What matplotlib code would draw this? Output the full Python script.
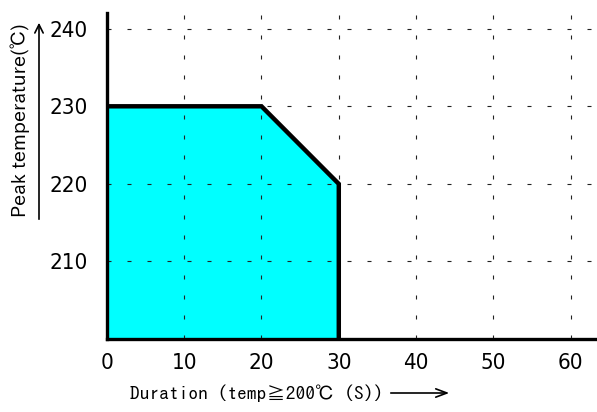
import matplotlib
matplotlib.use("Agg")
import matplotlib.pyplot as plt

# profile limit (duration s, peak temperature C)
duration = [0, 20, 30, 30]
peak_temp = [230, 230, 220, 200]
x_ticks = [0, 10, 20, 30, 40, 50, 60]
y_ticks = [210, 220, 230, 240]

gothic = ["IPAGothic", "Noto Sans CJK JP", "DejaVu Sans"]
pgothic = ["IPAPGothic", "Noto Sans CJK JP", "DejaVu Sans"]

fig = plt.figure(figsize=(5.97, 4.12), dpi=100)
ax = fig.add_axes([0.179, 0.177, 0.821, 0.791])

ax.fill_between(duration, peak_temp, 200, color="#00ffff", lw=0, zorder=1)
ax.plot(duration, peak_temp, color="black", lw=3.2, solid_joinstyle="miter", zorder=4)

ax.set_xlim(0, 63.4)
ax.set_ylim(200, 242)
ax.set_xticks(x_ticks)
ax.set_yticks(y_ticks)
ax.grid(True, color="#222222", lw=0.8, ls=(0, (3.6, 14.4)), zorder=2)
ax.set_axisbelow(False)

for s in ["top", "right"]:
    ax.spines[s].set_visible(False)
for s in ["left", "bottom"]:
    ax.spines[s].set_linewidth(2.4)
    ax.spines[s].set_zorder(5)

ax.tick_params(length=0, labelsize=16)
ax.tick_params(axis="y", pad=14)
ax.tick_params(axis="x", pad=10)
for lab in ax.get_xticklabels() + ax.get_yticklabels():
    lab.set_family("DejaVu Sans")
    lab.set_fontstretch("condensed")

# axis titles with arrows
fig.text(20 / 597, 1 - 120 / 412, "Peak temperature(\u2103)", rotation=90, ha="center", va="center",
         fontsize=14, family=pgothic)
fig.add_artist(matplotlib.patches.FancyArrowPatch(
    (39 / 597, 1 - 222 / 412), (39 / 597, 1 - 20 / 412), transform=fig.transFigure,
    arrowstyle="->,head_length=6,head_width=3", lw=1.2, color="black"))

fig.text(130 / 597, 1 - 393 / 412, "Duration (temp\u2267200\u2103 (S))", ha="left", va="center",
         fontsize=14, family=gothic)
fig.add_artist(matplotlib.patches.FancyArrowPatch(
    (388 / 597, 1 - 393 / 412), (452 / 597, 1 - 393 / 412), transform=fig.transFigure,
    arrowstyle="->,head_length=8,head_width=3", lw=1.2, color="black"))

fig.savefig("out.png", dpi=100)
